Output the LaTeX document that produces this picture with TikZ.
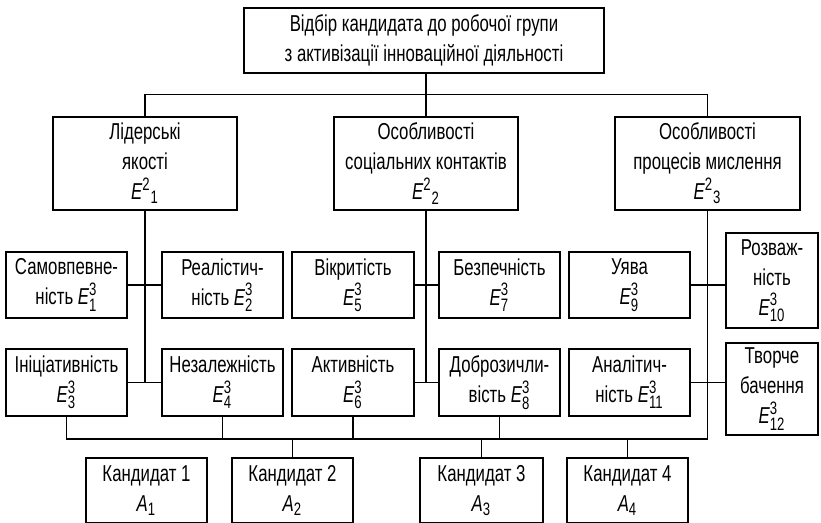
\documentclass[tikz,border=0pt]{standalone}
\usepackage{fontspec}
\setmainfont[FakeStretch=0.73]{Liberation Sans}
\newcommand{\dg}[1]{\mbox{\fontsize{9}{9}\selectfont#1}}
\newcommand{\ev}[2]{$\textit{E}^{\dg{#1}}_{\dg{#2}}$}
\newcommand{\evv}[2]{$\textit{E}^{\dg{#1}}{}_{\dg{#2}}$}
\newcommand{\av}[1]{$\textit{A}_{\dg{#1}}$}
\tikzset{
  box/.style={draw,line width=1.3pt,align=center,inner sep=0pt,font=\fontsize{11.5}{15}\selectfont},
  link/.style={line width=0.75pt}
}
\begin{document}
\begin{tikzpicture}[x=0.5pt,y=-0.5pt]
\useasboundingbox (0,0) rectangle (821,523);
\node[box,minimum width=180pt,minimum height=32.5pt] (top) at (424,40.5) {Відбір кандидата до робочої групи\\з активізації інноваційної діяльності};
\node[box,minimum width=92pt,minimum height=46.5pt] (l1) at (145,163.5) {Лідерські\\якості\\\evv{2}{1}};
\node[box,minimum width=92pt,minimum height=46.5pt] (l2) at (426,163.5) {Особливості\\соціальних контактів\\\evv{2}{2}};
\node[box,minimum width=92.5pt,minimum height=46.5pt] (l3) at (707.5,163.5) {Особливості\\процесів мислення\\\evv{2}{3}};
\node[box,minimum width=60.5pt,minimum height=33pt] (s1) at (66.5,285) {Самовпевне-\\ність \ev{3}{1}};
\node[box,minimum width=60.5pt,minimum height=33pt] (s2) at (222.5,285) {Реалістич-\\ність \ev{3}{2}};
\node[box,minimum width=61pt,minimum height=33pt] (s5) at (353,285) {Вікритість\\\ev{3}{5}};
\node[box,minimum width=60.5pt,minimum height=33pt] (s7) at (499.5,285) {Безпечність\\\ev{3}{7}};
\node[box,minimum width=60.5pt,minimum height=33pt] (s9) at (629.5,285) {Уява\\\ev{3}{9}};
\node[box,minimum width=46pt,minimum height=47.5pt] (s10) at (772,280.5) {Розваж-\\ність\\\ev{3}{10}};
\node[box,minimum width=60.5pt,minimum height=33.5pt] (s3) at (66.5,382.5) {Ініціативність\\\ev{3}{3}};
\node[box,minimum width=60.5pt,minimum height=33.5pt] (s4) at (222.5,382.5) {Незалежність\\\ev{3}{4}};
\node[box,minimum width=61pt,minimum height=33.5pt] (s6) at (353,382.5) {Активність\\\ev{3}{6}};
\node[box,minimum width=60.5pt,minimum height=33.5pt] (s8) at (499.5,382.5) {Доброзичли-\\вість \ev{3}{8}};
\node[box,minimum width=60.5pt,minimum height=33.5pt] (s11) at (629.5,382.5) {Аналітич-\\ність \ev{3}{11}};
\node[box,minimum width=46pt,minimum height=46pt] (s12) at (772,389) {Творче\\бачення\\\ev{3}{12}};
\node[box,minimum width=60.5pt,minimum height=32.5pt] (c1) at (146.5,490.5) {Кандидат 1\\\av{1}};
\node[box,minimum width=60.5pt,minimum height=32.5pt] (c2) at (292.5,490.5) {Кандидат 2\\\av{2}};
\node[box,minimum width=61.5pt,minimum height=32.5pt] (c3) at (481.5,490.5) {Кандидат 3\\\av{3}};
\node[box,minimum width=60.5pt,minimum height=32.5pt] (c4) at (627.5,490.5) {Кандидат 4\\\av{4}};
\coordinate (b) at (0,439);
\draw[link] (l2.north) -- (l2.north |- top.south);
\draw[link] (l1.north) -- ++(0,-21) -| (l3.north);
\draw[link] (l1.south) -- (l1.south |- s4.west);
\draw[link] (l2.south) -- (l2.south |- s8.west);
\draw[link] (l3.south) -- (l3.south |- b);
\draw[link] (s1.east) -- (s2.west);
\draw[link] (s3.east) -- (s4.west);
\draw[link] (s5.east) -- (s7.west);
\draw[link] (s6.east) -- (s8.west);
\draw[link] (s9.east) -- (s9.east -| s10.west);
\draw[link] (s11.east) -- (s11.east -| s12.west);
\draw[link] (s3.south) |- (l3.south |- b);
\draw[link] (s4.south) -- (s4.south |- b);
\draw[link] (s6.south) -- (s6.south |- b);
\draw[link] (s8.south) -- (s8.south |- b);
\draw[link] (c2.north) -- (c2.north |- b);
\draw[link] (c3.north) -- (c3.north |- b);
\draw[link] (c4.north) -- (c4.north |- b);
\end{tikzpicture}
\end{document}
